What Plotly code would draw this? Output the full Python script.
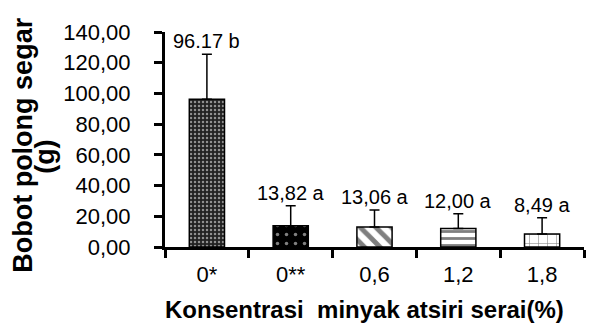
import plotly.graph_objects as go

categories = ["0*", "0**", "0,6", "1,2", "1,8"]
means = [96.17, 13.82, 13.06, 12.00, 8.49]
errors = [29.3, 13.0, 11.1, 9.7, 10.6]
labels = ["96.17 b", "13,82 a", "13,06 a", "12,00 a", "8,49 a"]
y_ticks = [0, 20, 40, 60, 80, 100, 120, 140]

FONT = "Liberation Sans, Arial, sans-serif"

fig = go.Figure()
fig.add_trace(go.Bar(
    x=categories,
    y=means,
    marker=dict(
        color="white",
        line=dict(color="black", width=1.5),
        pattern=dict(
            shape=[".", ".", "\\", "-", "+"],
            size=[4, 9, 11, 7, 9],
            solidity=[0.3, 0.12, 0.45, 0.4, 0.12],
            fgcolor=["white", "white", "black", "black", "black"],
            bgcolor=["#222222", "black", "white", "white", "white"],
            fillmode="overlay",
        ),
    ),
    error_y=dict(type="data", array=errors, arrayminus=[0] * len(means),
                 symmetric=False, color="black", thickness=1.5, width=5),
    showlegend=False,
))

for c, m, e, t in zip(categories, means, errors, labels):
    fig.add_annotation(x=c, y=m + e, text=t, showarrow=False,
                       yanchor="bottom", yshift=0,
                       font=dict(family=FONT, size=20, color="black"))

fig.add_annotation(xref="paper", yref="paper", x=-0.339, y=0.475,
                   text="<b>Bobot polong segar</b>", textangle=-90,
                   showarrow=False, xanchor="center", yanchor="middle",
                   font=dict(family=FONT, size=27, color="black"))
fig.add_annotation(xref="paper", yref="paper", x=-0.286, y=0.42,
                   text="<b>(g)</b>", textangle=-90,
                   showarrow=False, xanchor="center", yanchor="middle",
                   font=dict(family=FONT, size=27, color="black"))
fig.add_annotation(xref="paper", yref="paper", x=-0.004, y=-0.29,
                   text="<b>Konsentrasi\u00a0 minyak atsiri serai(%)</b>",
                   showarrow=False, xanchor="left", yanchor="middle",
                   font=dict(family=FONT, size=24, color="black"))

fig.update_layout(
    width=596, height=326,
    margin=dict(l=157, r=20, t=19, b=87),
    paper_bgcolor="white", plot_bgcolor="white",
    separators=",.",
    bargap=0.58,
    font=dict(family=FONT, size=22, color="black"),
)
fig.update_xaxes(type="category", showline=True, linecolor="black", linewidth=3,
                 ticks="outside", tickson="boundaries", ticklen=8, tickwidth=3,
                 tickcolor="black", showgrid=False, zeroline=False,
                 ticklabelstandoff=6,
                 tickfont=dict(family=FONT, size=22, color="black"))
fig.update_yaxes(range=[0, 140], tickvals=y_ticks, tickformat=".2f",
                 showline=True, linecolor="black", linewidth=3,
                 ticks="outside", ticklen=8, tickwidth=3, tickcolor="black",
                 showgrid=False, zeroline=False,
                 ticklabelstandoff=19,
                 tickfont=dict(family=FONT, size=22, color="black"))

fig.write_html("out.html")
